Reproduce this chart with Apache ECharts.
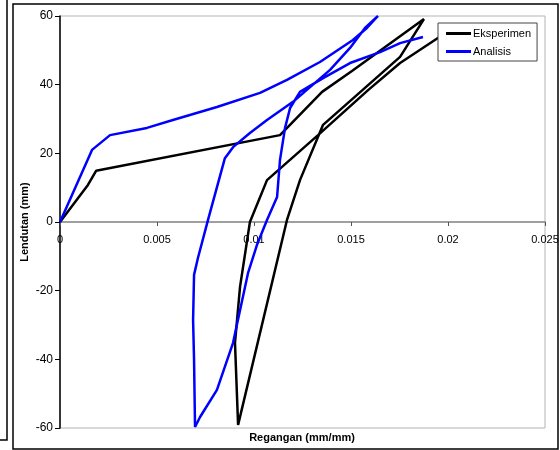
<!DOCTYPE html>
<html>
<head>
<meta charset="utf-8">
<script src="https://cdn.jsdelivr.net/npm/echarts@6/dist/echarts.min.js"></script>
<style>
  html, body { margin: 0; padding: 0; background: #fff; }
  #chart { width: 560px; height: 450px; }
</style>
</head>
<body>
<div id="chart"></div>
<script>
// Eksperimen (regangan, lendutan)
const eksX = [0, 0.00144, 0.00186, 0.01134, 0.01351, 0.01505, 0.01876, 0.01753, 0.01356, 0.01237, 0.0117,
  0.00918, 0.00902, 0.00928, 0.00979, 0.01067, 0.0133, 0.01588, 0.01753, 0.01948, 0.0201]
const eksY = [0, 10.8, 14.9, 25.3, 37.9, 44.0, 59.1, 48.1, 28.3, 12.2, 0.6,
  -59.1, -35.2, -18.9, 0, 12.2, 25.3, 38.4, 46.3, 53.6, 55.6]

// Analisis (regangan, lendutan)
const anaX = [0, 0.00165, 0.00258, 0.00448, 0.00582, 0.00809, 0.01031, 0.0117, 0.0134, 0.0151, 0.01582, 0.01639,
  0.01572, 0.01495, 0.01392, 0.01201, 0.01067, 0.00979, 0.00892, 0.0085, 0.00763, 0.00711, 0.00691, 0.00686, 0.00691, 0.00696,
  0.00722, 0.00809, 0.00892, 0.00969, 0.01015, 0.01067, 0.01119, 0.01134, 0.0116, 0.01186, 0.01237, 0.01356, 0.01495, 0.0165, 0.01753, 0.01871]
const anaY = [0, 21.0, 25.3, 27.4, 29.7, 33.5, 37.6, 41.4, 46.6, 53.0, 56.5, 60.0,
  56.5, 50.7, 44.3, 35.0, 29.7, 25.9, 21.8, 18.6, 0.6, -10.5, -15.4, -28.5, -40.2, -59.7,
  -56.8, -48.9, -35.2, -14.9, -6.7, 0.6, 7.3, 18.1, 27.4, 33.2, 37.9, 41.9, 46.3, 49.5, 52.1, 53.9]

const seriesNames = ['Eksperimen', 'Analisis']
const xTicks = { min: 0, max: 0.025, step: 0.005 }
const yTicks = { min: -60, max: 60, step: 20 }

const fontFamily = 'Liberation Sans, Arial, sans-serif'

const toPairs = (xs, ys) => xs.map((x, i) => [x, ys[i]])

const chartInstance = echarts.init(document.getElementById('chart'))

// grid: top 16, bottom 428 -> sumbu x (y = 0) berada di tengah
const gridTop = 16
const gridBottom = 22
const zeroOffset = -(450 - gridTop - gridBottom) / 2

const option = {
  animation: false,
  textStyle: { fontFamily: fontFamily },
  grid: {
    left: 60,
    right: 15,
    top: gridTop,
    bottom: gridBottom,
    show: true,
    borderColor: '#b4b4b4',
    borderWidth: 1,
    outerBoundsMode: 'none'
  },
  legend: {
    data: seriesNames,
    orient: 'vertical',
    left: 438,
    top: 23,
    width: 103,
    padding: [5, 6, 4, 8],
    itemGap: 7,
    itemWidth: 25,
    itemHeight: 3,
    icon: 'rect',
    backgroundColor: '#fff',
    borderColor: '#444',
    borderWidth: 1,
    textStyle: { fontSize: 11, color: '#000', fontFamily: fontFamily, padding: [0, 0, 0, -3] }
  },
  xAxis: {
    type: 'value',
    min: xTicks.min,
    max: xTicks.max,
    interval: xTicks.step,
    position: 'bottom',
    offset: zeroOffset,
    axisLine: { onZero: false, lineStyle: { color: '#808080', width: 1.5 } },
    axisTick: { show: true, length: 4, lineStyle: { color: '#555' } },
    axisLabel: {
      color: '#000',
      fontSize: 11,
      margin: 12,
      formatter: v => String(+v.toFixed(3))
    },
    splitLine: { show: false }
  },
  yAxis: {
    type: 'value',
    min: yTicks.min,
    max: yTicks.max,
    interval: yTicks.step,
    axisLine: { onZero: false, lineStyle: { color: '#000', width: 1.5 } },
    axisTick: { show: true, length: 5, lineStyle: { color: '#000' } },
    axisLabel: { color: '#000', fontSize: 12, margin: 7 },
    splitLine: { show: false }
  },
  series: [
    {
      name: seriesNames[0],
      type: 'line',
      data: toPairs(eksX, eksY),
      symbol: 'none',
      z: 2,
      lineStyle: { color: '#000', width: 2.5 },
      itemStyle: { color: '#000' }
    },
    {
      name: seriesNames[1],
      type: 'line',
      data: toPairs(anaX, anaY),
      symbol: 'none',
      z: 3,
      lineStyle: { color: '#0000ff', width: 2.5 },
      itemStyle: { color: '#0000ff' }
    }
  ],
  graphic: [
    // bingkai luar
    {
      type: 'rect',
      shape: { x: 13, y: 4, width: 545, height: 445 },
      style: { fill: null, stroke: '#000', lineWidth: 1.5 },
      silent: true
    },
    // potongan bingkai grafik sebelah kiri
    {
      type: 'rect',
      shape: { x: -20, y: -20, width: 27, height: 460 },
      style: { fill: null, stroke: '#000', lineWidth: 1.5 },
      silent: true
    },
    {
      type: 'text',
      x: 302,
      y: 438,
      style: {
        text: 'Regangan (mm/mm)',
        font: 'bold 11px ' + fontFamily,
        fill: '#000',
        align: 'center',
        verticalAlign: 'middle'
      },
      silent: true
    },
    {
      type: 'text',
      x: 25,
      y: 222,
      rotation: Math.PI / 2,
      style: {
        text: 'Lendutan (mm)',
        font: 'bold 11px ' + fontFamily,
        fill: '#000',
        align: 'center',
        verticalAlign: 'middle'
      },
      silent: true
    }
  ]
}

chartInstance.setOption(option)
</script>
</body>
</html>
